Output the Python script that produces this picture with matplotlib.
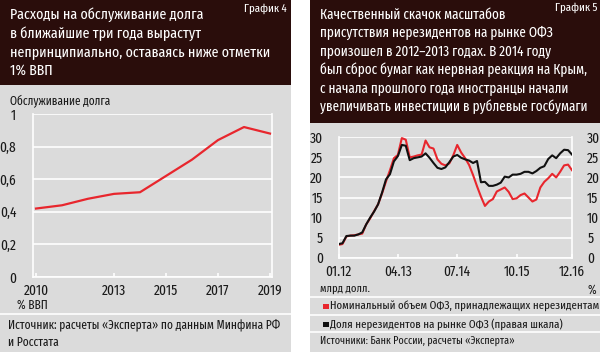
import matplotlib
matplotlib.use("Agg")
import matplotlib.pyplot as plt
from matplotlib.patches import Rectangle
from matplotlib.lines import Line2D

plt.rcParams['font.family'] = ['Fira Sans Extra Condensed', 'Fira Sans Condensed', 'Open Sans', 'DejaVu Sans']
plt.rcParams['font.stretch'] = 'condensed'

# ---- data: left chart ----
years = [2010, 2011, 2012, 2013, 2014, 2015, 2016, 2017, 2018, 2019]
debt_service = [0.42, 0.44, 0.48, 0.51, 0.52, 0.62, 0.72, 0.84, 0.92, 0.88]
left_yticks = [0, 0.2, 0.4, 0.6, 0.8, 1]
left_yticklabels = ['0', '0,2', '0,4', '0,6', '0,8', '1']
left_xticks = [2010, 2013, 2015, 2017, 2019]

# ---- data: right chart (monthly, 01.12 .. 12.16) ----
ofz_volume = [3.2, 3.4, 5.3, 5.5, 5.6, 5.8, 6.0, 8.3, 9.8, 11.6,
              13.3, 16.0, 19.0, 21.8, 24.8, 25.6, 29.8, 29.4, 25.0, 25.2,
              25.5, 25.7, 29.2, 27.5, 27.2, 24.5, 23.4, 23.0, 23.5, 25.5,
              28.1, 26.2, 24.8, 23.1, 20.6, 17.8, 15.2, 12.9, 14.0, 14.6,
              16.5, 17.0, 17.5, 16.4, 14.6, 14.8, 15.6, 16.0, 15.0, 14.0,
              14.5, 17.5, 18.9, 19.8, 20.9, 20.0, 21.4, 23.0, 23.2, 21.8]
nonres_share = [3.4, 3.6, 5.4, 5.5, 5.5, 5.8, 6.3, 8.3, 10.0, 11.5,
                13.3, 16.2, 19.5, 20.8, 24.0, 25.3, 28.1, 27.9, 24.3, 24.8,
                25.0, 25.2, 26.0, 24.9, 23.6, 22.4, 22.1, 22.5, 23.8, 25.2,
                25.6, 24.9, 24.5, 24.2, 23.6, 24.1, 18.8, 18.9, 17.9, 17.9,
                18.2, 18.7, 20.2, 20.0, 20.7, 20.7, 20.9, 21.4, 21.4, 21.0,
                21.6, 22.4, 22.8, 24.6, 25.5, 24.8, 26.0, 26.9, 26.8, 25.7]
right_xtick_pos = [0, 15, 30, 45, 59]
right_xtick_labels = ['01.12', '04.13', '07.14', '10.15', '12.16']
right_yticks = [0, 5, 10, 15, 20, 25, 30]

W, H = 600, 352
fig = plt.figure(figsize=(W / 100, H / 100), dpi=100)
fig.patch.set_facecolor('white')

DARK = '#2a0d0b'
GRAY = '#dbdbdb'
RED = '#e8262d'
TXT = '#1a1a1a'
TICK = 10.5


def fx(px):
    return px / W


def fy(py):
    return 1 - py / H


def rect(x0, y0, x1, y1, color, z=0):
    fig.add_artist(Rectangle((fx(x0), fy(y1)), fx(x1) - fx(x0), fy(y0) - fy(y1),
                             transform=fig.transFigure, facecolor=color,
                             edgecolor='none', zorder=z))


def hline(x0, x1, y, color='white', lw=1.2):
    fig.add_artist(Line2D([fx(x0), fx(x1)], [fy(y), fy(y)], transform=fig.transFigure,
                          color=color, lw=lw, zorder=1))


def txt(x, y, s, size=10, color=TXT, ha='left', va='center'):
    fig.text(fx(x), fy(y), s, fontsize=size, color=color, ha=ha, va=va, zorder=3)


# panels
rect(0, 0, 291, 352, GRAY)
rect(0, 0, 291, 85, DARK, 1)
rect(310, 0, 600, 352, GRAY)
rect(310, 0, 600, 123, DARK, 1)

# left header
left_title = ['Расходы на обслуживание долга',
              'в ближайшие три года вырастут',
              'непринципиально, оставаясь ниже отметки',
              '1% ВВП']
for i, line in enumerate(left_title):
    txt(10, 15 + 18.5 * i, line, size=10.9, color='white')
txt(287, 9, 'График 4', size=8.5, color='white', ha='right')

# right header
right_title = ['Качественный скачок масштабов',
               'присутствия нерезидентов на рынке ОФЗ',
               'произошел в 2012–2013 годах. В 2014 году',
               'был сброс бумаг как нервная реакция на Крым,',
               'с начала прошлого года иностранцы начали',
               'увеличивать инвестиции в рублевые госбумаги']
for i, line in enumerate(right_title):
    txt(320, 15 + 18.3 * i, line, size=10.3, color='white')
txt(597, 8, 'График 5', size=8.5, color='white', ha='right')

# ---- left chart ----
axL = fig.add_axes([fx(33), fy(277), fx(272) - fx(33), fy(114) - fy(277)])
axL.set_facecolor('none')
axL.plot(years, debt_service, color=RED, lw=1.6, zorder=3, solid_joinstyle='round')
axL.set_xlim(2010 - 3 / 26, 2019 + 2 / 26)
axL.set_ylim(0, 1)
axL.set_yticks(left_yticks)
axL.set_yticklabels(left_yticklabels)
axL.set_xticks(left_xticks)
axL.set_xticklabels([str(y) for y in left_xticks])
axL.grid(axis='y', color='white', lw=1.2)
for s in ['left', 'right', 'bottom']:
    axL.spines[s].set_color('white')
    axL.spines[s].set_linewidth(1.2)
axL.spines['top'].set_visible(False)
axL.tick_params(axis='y', length=0, pad=12, labelsize=TICK, labelcolor=TXT)
axL.tick_params(axis='x', length=3, direction='in', color='white', width=1.2,
                pad=5, labelsize=TICK, labelcolor=TXT)
txt(10, 101, 'Обслуживание долга', size=8.9)
txt(17, 305, '% ВВП', size=9)
hline(0, 291, 314)
txt(8, 326, 'Источник: расчеты «Эксперта» по данным Минфина РФ', size=9)
txt(8, 342, 'и Росстата', size=9)

# ---- right chart ----
axR = fig.add_axes([fx(338.5), fy(257.7), fx(572) - fx(338.5), fy(137.3) - fy(257.7)])
axR.set_facecolor('none')
months = list(range(len(ofz_volume)))
axR.plot(months, ofz_volume, color=RED, lw=1.5, zorder=3)
axR.plot(months, nonres_share, color='#111111', lw=1.5, zorder=4)
axR.set_xlim(0, 59)
axR.set_ylim(0, 30)
axR.set_yticks(right_yticks)
axR.set_xticks(right_xtick_pos)
axR.set_xticklabels(right_xtick_labels)
axR.grid(axis='y', color='white', lw=1.2)
for s in ['left', 'right', 'bottom']:
    axR.spines[s].set_color('white')
    axR.spines[s].set_linewidth(1.2)
axR.spines['top'].set_visible(False)
axR.tick_params(axis='y', length=0, pad=11, labelsize=TICK, labelcolor=TXT,
                labelright=True, right=True)
axR.tick_params(axis='x', length=3, direction='in', color='white', width=1.2,
                pad=5, labelsize=TICK, labelcolor=TXT)

txt(320, 289, 'млрд долл.', size=8.3)
txt(596, 290, '%', size=9, ha='right')
hline(310, 600, 297)
rect(323, 303.5, 328.5, 309, RED, 2)
txt(330, 306, 'Номинальный объем ОФЗ, принадлежащих нерезидентам', size=8.5)
hline(310, 600, 315)
rect(323, 321.5, 328.5, 327, '#111111', 2)
txt(330, 324, 'Доля нерезидентов на рынке ОФЗ (правая шкала)', size=8.5)
hline(310, 600, 332)
txt(320, 341, 'Источники: Банк России, расчеты «Эксперта»', size=7.9)

fig.savefig('out.png', dpi=100)
